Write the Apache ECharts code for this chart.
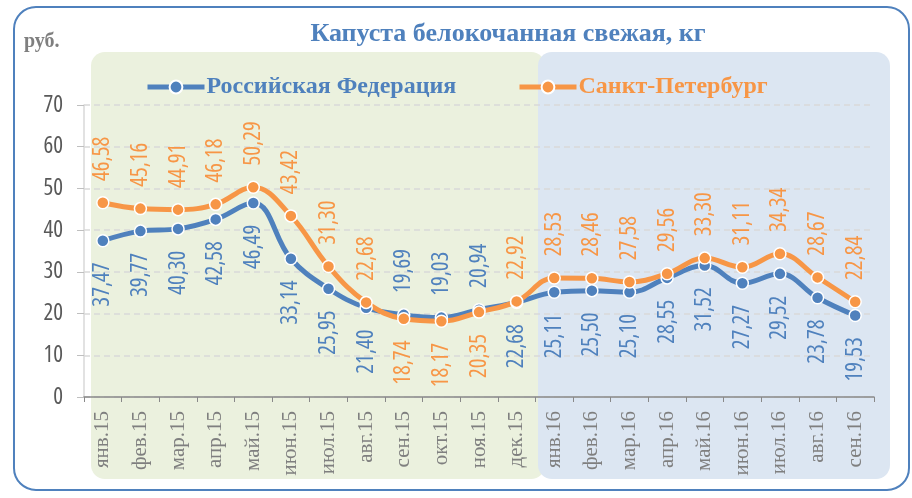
<!DOCTYPE html>
<html><head><meta charset="utf-8">
<script src="https://cdn.jsdelivr.net/npm/echarts@6/dist/echarts.min.js"></script>
<style>html,body{margin:0;padding:0;background:#fff}#c{width:912px;height:498px}</style>
</head><body><div id="c"></div>
<script>
const categories = ['янв.15','фев.15','мар.15','апр.15','май.15','июн.15','июл.15','авг.15','сен.15','окт.15','ноя.15','дек.15','янв.16','фев.16','мар.16','апр.16','май.16','июн.16','июл.16','авг.16','сен.16'];
const rfValues = [37.47,39.77,40.30,42.58,46.49,33.14,25.95,21.40,19.69,19.03,20.94,22.68,25.11,25.50,25.10,28.55,31.52,27.27,29.52,23.78,19.53];
const spbValues = [46.58,45.16,44.91,46.18,50.29,43.42,31.30,22.68,18.74,18.17,20.35,22.92,28.53,28.46,27.58,29.56,33.30,31.11,34.34,28.67,22.84];
const seriesNames = ['Российская Федерация','Санкт-Петербург'];
const titleText = 'Капуста белокочанная свежая, кг';
const unitText = 'руб.';

const BLUE = '#4F81BD', ORANGE = '#F79646';
const SERIF = "'Liberation Serif','DejaVu Serif',serif";

// pick the narrowest available condensed sans font (the original uses a condensed face)
function pickNarrow() {
  const ctx = document.createElement('canvas').getContext('2d');
  const sample = '46,58';
  const meas = f => { ctx.font = f; const m = ctx.measureText(sample); return { w: m.width, h: m.actualBoundingBoxAscent }; };
  const has = fam => {
    const a = meas('100px ' + fam + ', monospace').w, b = meas('100px monospace').w;
    const c = meas('100px ' + fam + ', serif').w, d = meas('100px serif').w;
    return Math.abs(a - b) > 0.5 || Math.abs(c - d) > 0.5;
  };
  const cands = [];
  ["'Liberation Sans Narrow'", "'DejaVu Sans Condensed'", "'Roboto Condensed'", "'Open Sans Condensed'", "'Noto Sans Condensed'", "'Arial Narrow'"].forEach(f => {
    if (has(f)) { const m = meas('100px ' + f); cands.push({ style: '', family: f, ratio: m.w / m.h }); }
  });
  ["'Noto Sans'", "'Open Sans'", 'Roboto', 'Inter', "'DejaVu Sans'"].forEach(f => {
    if (!has(f)) return;
    const n = meas('100px ' + f);
    cands.push({ style: '', family: f, ratio: n.w / n.h });
    ['extra-condensed', 'condensed', 'semi-condensed'].forEach(st => {
      const n2 = meas('100px ' + f);
      const m = meas(st + ' 100px ' + f);
      if (m.w < n2.w * 0.97) cands.push({ style: st, family: f, ratio: m.w / m.h });
    });
  });
  const target = 2.4;
  cands.sort((a, b) => Math.abs(a.ratio - target) - Math.abs(b.ratio - target));
  const best = cands[0] || { style: '', family: 'sans-serif', ratio: 3.4 };
  const m = meas((best.style ? best.style + ' ' : '') + '100px ' + best.family);
  const sizeH = 18 / m.h * 100, sizeW = 44 / m.w * 100;
  best.size = Math.round(Math.min(sizeH, sizeW));
  return best;
}
const NF = pickNarrow();
const NARROW = NF.family + ", sans-serif";

const fmt = v => v.toFixed(2).replace('.', ',');
function lbl(pos, color) {
  return {
    show: true, position: pos, distance: 15, rotate: 90,
    align: pos === 'top' ? 'left' : 'right', verticalAlign: 'middle',
    color: color, fontFamily: NARROW, fontStyle: NF.style || 'normal', fontSize: NF.size,
    formatter: p => fmt(p.value)
  };
}
// months where the Saint-Petersburg price is below the national one: labels swap sides
const flip = new Set([8, 9, 10]);
const rfData = rfValues.map((v, i) => ({ value: v, label: lbl(flip.has(i) ? 'top' : 'bottom', BLUE) }));
const spbData = spbValues.map((v, i) => ({ value: v, label: lbl(flip.has(i) ? 'bottom' : 'top', ORANGE) }));

const chart = echarts.init(document.getElementById('c'), null, { renderer: 'canvas' });
chart.setOption({
  backgroundColor: '#fff',
  animation: false,
  graphic: [
    { type: 'rect', z: -10, shape: { x: 14, y: 7, width: 895, height: 483, r: 22 }, style: { fill: '#fff', stroke: BLUE, lineWidth: 2 } },
    { type: 'rect', z: -9, shape: { x: 91, y: 52, width: 454, height: 427, r: 14 }, style: { fill: '#EBF1DE' } },
    { type: 'rect', z: -8, shape: { x: 538, y: 52, width: 352, height: 427, r: 14 }, style: { fill: '#DCE6F2' } }
  ],
  title: [
    { text: titleText, left: 503, top: 16, textAlign: 'center', textStyle: { fontFamily: SERIF, fontWeight: 'bold', fontSize: 26, color: BLUE } },
    { text: unitText, left: 19, top: 27, textStyle: { fontFamily: SERIF, fontWeight: 'bold', fontSize: 20, color: '#7f7f7f' } }
  ],
  legend: [
    { data: [{ name: seriesNames[0] }], left: 145, top: 75, padding: 0, itemWidth: 57, itemHeight: 16, itemGap: 0,
      lineStyle: { width: 5 },
      textStyle: { fontFamily: SERIF, fontWeight: 'bold', fontSize: 24, color: BLUE, padding: [0, 0, 0, -3] } },
    { data: [{ name: seriesNames[1] }], left: 517, top: 75, padding: 0, itemWidth: 57, itemHeight: 16, itemGap: 0,
      lineStyle: { width: 5 },
      textStyle: { fontFamily: SERIF, fontWeight: 'bold', fontSize: 24, color: ORANGE, padding: [0, 0, 0, -3] } }
  ],
  grid: { left: 84, right: 38, top: 105, bottom: 101, containLabel: false },
  xAxis: {
    type: 'category', data: categories, boundaryGap: true,
    axisLine: { lineStyle: { color: '#898989', width: 1.5 } },
    axisTick: { show: true, length: 5, lineStyle: { color: '#898989' } },
    axisLabel: { rotate: 90, margin: 14, fontFamily: SERIF, fontSize: 21, color: '#7f7f7f', interval: 0 }
  },
  yAxis: {
    type: 'value', min: 0, max: 70, interval: 10,
    axisLine: { show: true, lineStyle: { color: '#d9d9d9', width: 1.5 } },
    axisTick: { show: true, length: 7, lineStyle: { color: '#bfbfbf' } },
    axisLabel: { margin: 21, fontFamily: NARROW, fontStyle: NF.style || 'normal', fontSize: NF.size, color: '#595959' },
    splitLine: { show: true, lineStyle: { color: '#d9d9d9', type: [6, 4], width: 1.5 } }
  },
  series: [
    { name: seriesNames[0], type: 'line', data: rfData, smooth: 0.4,
      symbol: 'circle', symbolSize: 12,
      lineStyle: { color: BLUE, width: 5 },
      itemStyle: { color: BLUE, borderColor: '#fff', borderWidth: 1.5 } },
    { name: seriesNames[1], type: 'line', data: spbData, smooth: 0.4,
      symbol: 'circle', symbolSize: 12,
      lineStyle: { color: ORANGE, width: 5 },
      itemStyle: { color: ORANGE, borderColor: '#fff', borderWidth: 1.5 } }
  ]
});
</script></body></html>
